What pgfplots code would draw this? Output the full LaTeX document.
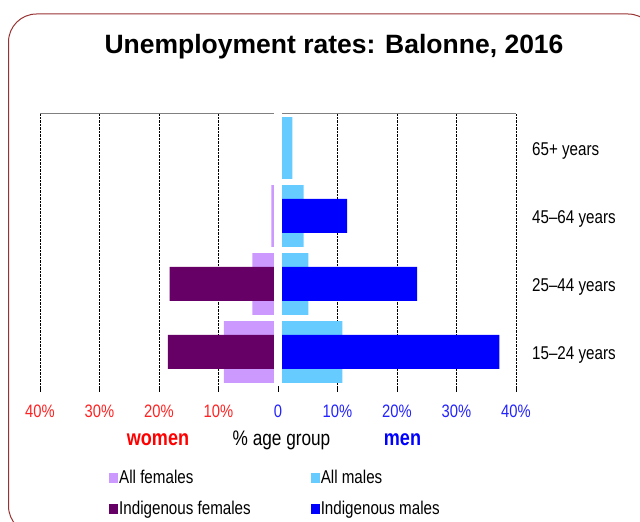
\documentclass[border=0pt]{standalone}
\usepackage{pgfplots}
\pgfplotsset{compat=1.18}
\usepackage{fontspec}
\setmainfont{Liberation Sans}
\newfontfamily\narrowfont[FakeStretch=0.82]{Liberation Sans}
\definecolor{allf}{HTML}{CC99FF}
\definecolor{allm}{HTML}{66CCFF}
\definecolor{indf}{HTML}{660066}
\definecolor{indm}{HTML}{0000FF}
\definecolor{tickred}{HTML}{FF2222}
\definecolor{tickblue}{HTML}{2222FF}
\definecolor{framecol}{HTML}{993333}
\begin{document}
\begin{tikzpicture}[x=1pt,y=1pt]
\useasboundingbox (0,0) rectangle (640,522);
\draw[framecol, line width=1pt, rounded corners=28pt] (8.5,-12) rectangle (656,508);
\node[anchor=base, font=\bfseries\fontsize{26.5}{26.5}\selectfont] at (334,468.7) {Unemployment rates: Balonne, 2016};
\begin{axis}[
  at={(40pt,136pt)}, anchor=south west,
  scale only axis, width=476pt, height=272pt,
  xmin=-40, xmax=40, ymin=-0.5, ymax=3.5,
  axis line style={draw=none},
  xtick={-40,-30,-20,-10,0,10,20,30,40},
  xticklabels={\textcolor{tickred}{40\%},\textcolor{tickred}{30\%},\textcolor{tickred}{20\%},\textcolor{tickred}{10\%},\textcolor{tickblue}{0},\textcolor{tickblue}{10\%},\textcolor{tickblue}{20\%},\textcolor{tickblue}{30\%},\textcolor{tickblue}{40\%}},
  xtick pos=bottom, tick align=outside, major tick length=6pt,
  xtick style={black, line width=0.8pt},
  xticklabel style={font=\narrowfont\fontsize{18}{18}\selectfont, anchor=base, inner sep=0pt, yshift=-25pt},
  xmajorgrids, major grid style={densely dotted, black, line width=0.7pt},
  ytick={0,1,2,3},
  yticklabels={15–24 years,25–44 years,45–64 years,65+ years},
  ytick pos=right, yticklabel pos=right, ytick style={draw=none},
  yticklabel style={font=\narrowfont\fontsize{18.5}{18.5}\selectfont, anchor=west, inner sep=0pt, xshift=10pt, yshift=-3pt},
  legend columns=2,
  legend image code/.code={\fill[#1] (0pt,-5pt) rectangle (9pt,5pt);},
  legend style={at={(axis description cs:0.145,-0.305)}, anchor=north west, draw=none, fill=none,
    inner sep=0pt, row sep=14pt, font=\narrowfont\fontsize{18.5}{18.5}\selectfont,
    nodes={inner sep=1pt},
    /tikz/every even column/.append style={column sep=59pt}},
  legend cell align=left,
]
\addplot[xbar, bar shift=0pt, bar width=0.91, fill=allf, draw=none] coordinates {(-9.1,0) (-4.3,1) (-1.1,2) (0,3)};
\addlegendentry{All females}
\addplot[xbar, bar shift=0pt, bar width=0.91, fill=allm, draw=none] coordinates {(10.8,0) (5.1,1) (4.3,2) (2.4,3)};
\addlegendentry{All males}
\addplot[xbar, bar shift=0pt, bar width=0.5, fill=indf, draw=none] coordinates {(-18.5,0) (-18.2,1) (0,2) (0,3)};
\addlegendentry{Indigenous females}
\addplot[xbar, bar shift=0pt, bar width=0.5, fill=indm, draw=none] coordinates {(37.2,0) (23.4,1) (11.6,2) (0,3)};
\addlegendentry{Indigenous males}
\draw[gray, line width=1pt] (rel axis cs:0,1) -- (rel axis cs:1,1);
\fill[white] (axis cs:-0.6,-0.5) rectangle (axis cs:0.65,3.55);
\draw[black, line width=0.9pt] (rel axis cs:0,0) -- (rel axis cs:1,0);
\end{axis}
\node[anchor=base, text=red, font=\narrowfont\bfseries\fontsize{22}{22}\selectfont] at (158,76.3) {women};
\node[anchor=base, font=\narrowfont\fontsize{21}{21}\selectfont] at (281.5,76.3) {\% age group};
\node[anchor=base, text=blue, font=\narrowfont\bfseries\fontsize{22}{22}\selectfont] at (402.5,76.3) {men};
\end{tikzpicture}
\end{document}
